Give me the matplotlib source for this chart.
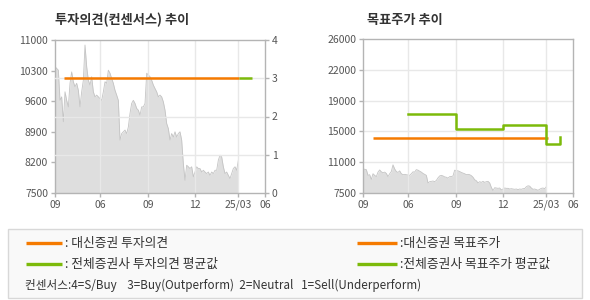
import numpy as np
import matplotlib
matplotlib.use("Agg")
import matplotlib.pyplot as plt
from matplotlib.patches import Rectangle
from matplotlib.lines import Line2D

plt.rcParams['font.family'] = ['Noto Sans CJK KR', 'DejaVu Sans']

# x axis ticks (trading-day index positions) and labels
tick_pos = [0, 27, 56, 84, 110, 126]
tick_labels = ['09', '06', '09', '12', '25/03', '06']

# daily close (gray area), one value per sample
price = [10390, 10350, 10310, 9620, 9700, 9130, 9815, 9620, 9470, 10010,
         10270, 10045, 9930, 10010, 9850, 9470, 9815, 10080, 10885, 10390,
         10080, 9970, 10160, 9815, 9700, 9740, 9700, 9660, 9620, 9815,
         10045, 10010, 10310, 10240, 10120, 10010, 9850, 9740, 9620, 8710,
         8860, 8900, 8940, 8860, 9010, 9320, 9550, 9620, 9550, 9435,
         9395, 9280, 9470, 9470, 9550, 10240, 10200, 10160, 10080, 9970,
         9890, 9815, 9700, 9740, 9700, 9585, 9395, 9090, 8975, 8710,
         8860, 8780, 8900, 8780, 8860, 8900, 8710, 8170, 7790, 8135,
         8100, 8060, 8100, 7870, 7980, 8100, 8060, 8060, 7980, 8020,
         7980, 7945, 7980, 7905, 7980, 7945, 8020, 8020, 8250, 8365,
         8325, 8100, 7945, 7980, 7905, 7830, 7945, 8060, 8100, 8020, 8250]

# investment opinion (consensus scale 0-4)
daishin_opinion_x = [5.4, 110.4]
daishin_opinion = [3, 3]
all_opinion_x = [110.4, 118.2]
all_opinion = [3, 3]

# target price
daishin_target_x = [6, 111]
daishin_target = [14100, 14100]
all_target_x = [27, 56, 84, 110, 118]
all_target = [17000, 15200, 15700, 13400, 14200]

left_yticks = [7500, 8200, 8900, 9600, 10300, 11000]
right_yticks = [0, 1, 2, 3, 4]
target_yticks = np.linspace(7500, 26000, 6)
target_ylabels = ['7500', '11000', '15000', '19000', '22000', '26000']

ORANGE = '#f57a00'
GREEN = '#7cba0a'
FILL = '#dedede'
FILL_EDGE = '#c4c4c4'
GRID = '#e8e8e8'
SPINE = '#b4b4b4'
TICK_TXT = '#555555'

W, H = 590, 300
fig = plt.figure(figsize=(W / 100, H / 100), dpi=100)


def px_axes(x0, y0, x1, y1):
    return fig.add_axes([x0 / W, 1 - y1 / H, (x1 - x0) / W, (y1 - y0) / H])


def style_axes(ax):
    for s in ax.spines.values():
        s.set_color(SPINE)
        s.set_linewidth(1)
    ax.tick_params(colors=SPINE, labelcolor=TICK_TXT, labelsize=7.5,
                   length=3, width=1, pad=2)
    ax.set_xlim(tick_pos[0], tick_pos[-1])
    ax.set_xticks(tick_pos)
    ax.set_xticklabels(tick_labels)
    for x in tick_pos[1:-1]:
        ax.axvline(x, color=GRID, lw=1, zorder=2)


price_x = np.arange(len(price))

# ---- left: opinion chart
ax1 = px_axes(55, 40, 265, 193)
style_axes(ax1)
ax1.fill_between(price_x, 7500, price, color=FILL, lw=0, zorder=1)
ax1.plot(price_x, price, color=FILL_EDGE, lw=0.6, zorder=1.5)
ax1.set_ylim(7500, 11000)
ax1.set_yticks(left_yticks)
ax2 = ax1.twinx()
ax2.set_ylim(0, 4)
ax2.set_yticks(right_yticks)
for s in ax2.spines.values():
    s.set_visible(False)
ax2.tick_params(colors=SPINE, labelcolor=TICK_TXT, labelsize=7.5,
                length=3, width=1, pad=2)
for y in right_yticks[1:-1]:
    ax2.axhline(y, color=GRID, lw=1, zorder=2)
ax2.plot(daishin_opinion_x, daishin_opinion, color=ORANGE, lw=1.8, zorder=3,
         solid_capstyle='butt')
ax2.plot(all_opinion_x, all_opinion, color=GREEN, lw=1.8, zorder=3,
         solid_capstyle='butt')
ax2.set_xlim(tick_pos[0], tick_pos[-1])
fig.text(55 / W, 1 - 20 / H, '투자의견(컨센서스) 추이', fontsize=9.5,
         fontweight='bold', color='#333333', va='center', ha='left')

# ---- right: target price chart
ax3 = px_axes(363, 39, 573, 193)
style_axes(ax3)
ax3.fill_between(price_x, 7500, price, color=FILL, lw=0, zorder=1)
ax3.plot(price_x, price, color=FILL_EDGE, lw=0.6, zorder=1.5)
ax3.set_ylim(7500, 26000)
ax3.set_yticks(target_yticks)
ax3.set_yticklabels(target_ylabels)
for y in target_yticks[1:-1]:
    ax3.axhline(y, color=GRID, lw=1, zorder=2)
ax3.plot(daishin_target_x, daishin_target, color=ORANGE, lw=1.8, zorder=3,
         solid_capstyle='butt')
ax3.step(all_target_x, all_target, where='post', color=GREEN, lw=1.8,
         zorder=3)
fig.text(367 / W, 1 - 20 / H, '목표주가 추이', fontsize=9.5,
         fontweight='bold', color='#333333', va='center', ha='left')

# ---- legend box
box = Rectangle((8 / W, 1 - 298 / H), 574 / W, 69 / H, transform=fig.transFigure,
                facecolor='#f9f9f9', edgecolor='#d8d8d8', lw=1)
fig.patches.append(box)

legend_rows = [
    (26, 62, 243, ORANGE, ': 대신증권 투자의견'),
    (26, 62, 264, GREEN, ': 전체증권사 투자의견 평균값'),
    (357, 397, 243, ORANGE, ':대신증권 목표주가'),
    (357, 397, 264, GREEN, ':전체증권사 목표주가 평균값'),
]
for x0, x1, y, c, label in legend_rows:
    fig.lines.append(Line2D([x0 / W, x1 / W], [1 - y / H, 1 - y / H],
                            transform=fig.transFigure, color=c, lw=2.4,
                            solid_capstyle='butt'))
    fig.text((x1 + 3) / W, 1 - y / H, label, fontsize=9.2, color='#333333',
             va='center', ha='left')
fig.text(25 / W, 1 - 285 / H,
         '컨센서스:4=S/Buy    3=Buy(Outperform)  2=Neutral   1=Sell(Underperform)',
         fontsize=8.4, color='#333333', va='center', ha='left')

fig.savefig('out.png', dpi=100)
